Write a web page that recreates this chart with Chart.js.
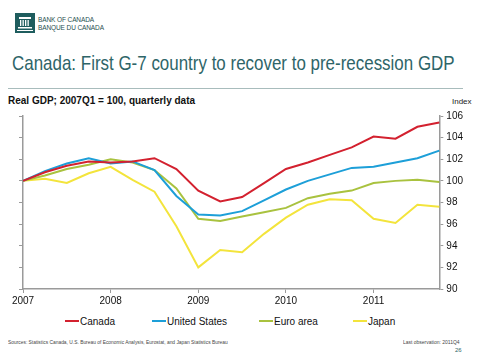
<!DOCTYPE html>
<html>
<head>
<meta charset="utf-8">
<script src="https://cdn.jsdelivr.net/npm/chart.js@4/dist/chart.umd.min.js"></script>
<style>
  body{margin:0;width:480px;height:360px;background:#fff;font-family:"Liberation Sans",Arial,sans-serif;position:relative;overflow:hidden}
  .abs{position:absolute;white-space:nowrap;transform-origin:0 0}
  #logo{left:15px;top:13px;width:20px;height:20px;background:#1f5d5e}
  #bank{left:38px;top:16px;font-size:6.5px;line-height:7.5px;color:#1f4f50;letter-spacing:-0.1px}
  #title{left:12px;top:51px;font-size:21px;color:#2e6568}
  #rule{left:8px;top:88px;width:455px;height:1px;background:#a8bcbc}
  #sub{left:8px;top:95px;font-size:10px;font-weight:bold;color:#111}
  #unit{left:452px;top:97px;font-size:8px;color:#222}
  #wrap{position:absolute;left:0;top:106px;width:480px;height:203px}
  #legend{left:0;top:316px;width:480px;height:14px}
  .item{position:absolute;font-size:10px;color:#111;line-height:12px}
  .item span{display:inline-block;width:14px;height:2px;vertical-align:middle;margin-right:1px;margin-top:-2px}
  #src{left:8px;top:339px;font-size:5.5px;color:#444}
  #last{left:403px;top:339px;font-size:5.5px;color:#444}
  #page{left:455px;top:347px;font-size:6px;color:#2e6568}
</style>
</head>
<body>
<div class="abs" id="logo"><svg width="20" height="20" viewBox="0 0 20 20"><rect x="4" y="4" width="12" height="2" fill="#fff"/><rect x="5" y="7" width="1.3" height="6" fill="#fff"/><rect x="7.5" y="7" width="1.3" height="6" fill="#fff"/><rect x="10" y="7" width="1.3" height="6" fill="#fff"/><rect x="12.5" y="7" width="1.3" height="6" fill="#fff"/><rect x="3" y="14" width="14" height="1.5" fill="#fff"/><rect x="2" y="17" width="16" height="1" fill="#fff"/></svg></div>
<div class="abs" id="bank">BANK OF CANADA<br>BANQUE DU CANADA</div>
<div class="abs" id="title">Canada: First G-7 country to recover to pre-recession GDP</div>
<div class="abs" id="rule"></div>
<div class="abs" id="sub">Real GDP; 2007Q1 = 100, quarterly data</div>
<div class="abs" id="unit">Index</div>
<div id="wrap"><canvas id="chart"></canvas></div>
<div class="abs" id="legend"></div>
<div class="abs" id="src">Sources: Statistics Canada, U.S. Bureau of Economic Analysis, Eurostat, and Japan Statistics Bureau</div>
<div class="abs" id="last">Last observation: 2011Q4</div>
<div class="abs" id="page">26</div>
<script>
// Data: real GDP, 2007Q1 = 100
const years = ["2007","2008","2009","2010","2011"];
const quarters = [];
years.forEach(y => { for(let q=1;q<=4;q++) quarters.push(y+"Q"+q); });

const canada = [100,100.8,101.4,101.8,101.7,101.8,102.1,101.1,99.1,98.1,98.5,99.8,101.1,101.7,102.4,103.1,104.1,103.9,105.0,105.4];
const us     = [100,100.9,101.6,102.1,101.6,101.8,101.0,98.6,96.9,96.8,97.2,98.2,99.2,100.0,100.6,101.2,101.3,101.7,102.1,102.8];
const euro   = [100,100.5,101.1,101.5,102.0,101.7,101.0,99.3,96.5,96.3,96.7,97.1,97.5,98.4,98.8,99.1,99.8,100.0,100.1,99.9];
const japan  = [100,100.2,99.8,100.7,101.3,100.1,99.0,95.8,92.0,93.6,93.4,95.1,96.6,97.8,98.3,98.2,96.5,96.1,97.8,97.6];

const names  = ["Canada","United States","Euro area","Japan"];
const colors = ["#d3212f","#1d9fd8","#a9c23f","#f3e43c"];
const series = [canada, us, euro, japan];

// squeeze condensed slide text to its width
function fit(id,w){ const e=document.getElementById(id); e.style.transform=`scaleX(${w/e.offsetWidth})`; }
fit("title",443); fit("src",220); fit("last",57);

// Legend (positions by hand to match slide)
const legendX = [65,152,259,353];
const leg = document.getElementById("legend");
names.forEach((n,i)=>{
  const d=document.createElement("div");
  d.className="item"; d.style.left=legendX[i]+"px";
  d.innerHTML=`<span style="background:${colors[i]}"></span>${n}`;
  leg.appendChild(d);
});

const axisCol="#9a9a9a";
new Chart(document.getElementById("chart"),{
  type:"line",
  data:{
    labels:quarters,
    datasets:series.map((s,i)=>({label:names[i],data:s,borderColor:colors[i],backgroundColor:colors[i],borderWidth:2,pointRadius:0,tension:0}))
  },
  options:{
    animation:false,responsive:true,maintainAspectRatio:false,
    layout:{padding:{left:19,right:14,top:10,bottom:0}},
    plugins:{legend:{display:false},tooltip:{enabled:false}},
    scales:{
      x:{
        offset:false,
        grid:{drawOnChartArea:false,tickLength:4,color:c=>c.index%4===0?axisCol:"transparent"},
        border:{color:axisCol,width:1.5},
        ticks:{autoSkip:false,maxRotation:0,padding:2,color:"#111",font:{family:"Liberation Sans",size:10},
          callback:(v,i)=>quarters[i].endsWith("Q1")?quarters[i].slice(0,4):""}
      },
      y:{
        position:"right",min:90,max:106,
        grid:{drawOnChartArea:false,tickLength:4,color:axisCol},
        border:{color:axisCol,width:1.5},
        ticks:{stepSize:2,padding:3,color:"#111",font:{family:"Liberation Sans",size:10}}
      },
      yl:{
        position:"left",min:90,max:106,
        grid:{drawOnChartArea:false,tickLength:4,color:axisCol},
        border:{color:axisCol,width:1.5},
        ticks:{stepSize:2,display:false}
      }
    }
  }
});
</script>
</body>
</html>
